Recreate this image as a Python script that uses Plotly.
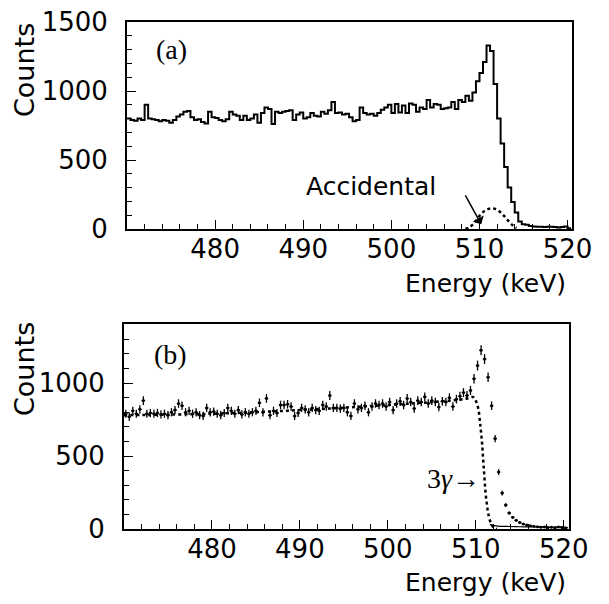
import plotly.graph_objects as go

# ---- data ----
# panel (a): histogram, 0.4 keV bins starting at 470.0 keV
bin_lo = 470.0
bin_w = 0.4
counts_a = [
    800, 790, 785, 800, 790, 900, 800, 795, 790, 780,
    790, 785, 770, 790, 815, 830, 850, 855, 810, 790,
    795, 775, 765, 850, 810, 805, 790, 780, 795, 850,
    830, 820, 790, 820, 790, 800, 830, 770, 840, 880,
    870, 760, 850, 840, 850, 855, 860, 790, 830, 845,
    800, 810, 840, 820, 815, 850, 835, 860, 920, 840,
    845, 830, 835, 810, 780, 790, 880, 840, 830, 835,
    820, 840, 865, 880, 900, 840, 905, 845, 895, 840,
    910, 900, 850, 880, 870, 935, 880, 905, 900, 870,
    875, 880, 920, 870, 935, 920, 965, 930, 990, 1070,
    1130, 1210, 1330, 1290, 1050, 800, 620, 450, 300, 195,
    120, 55, 35, 30, 22, 18, 17, 16, 15, 17,
    17, 15, 10, 15, 18, 5,
]
acc_e = [508.4, 508.8, 509.2, 509.6, 510.0, 510.4, 510.8, 511.2, 511.5, 511.8,
         512.2, 512.6, 513.0, 513.4, 513.8, 514.2]
acc_c = [0, 10, 30, 60, 95, 122, 140, 149, 150, 145,
         130, 108, 80, 50, 25, 8]

# panel (b): data points with sqrt errors, same binning (centres)
counts_b = [
    790, 770, 810, 790, 820, 880, 790, 795, 790, 795,
    785, 790, 780, 800, 815, 860, 845, 800, 810, 790,
    800, 780, 775, 830, 800, 805, 790, 780, 795, 830,
    810, 790, 815, 785, 800, 790, 800, 810, 865, 800,
    895, 780, 810, 795, 850, 850, 855, 840, 775, 795,
    830, 820, 800, 830, 815, 810, 850, 840, 915, 830,
    830, 825, 830, 800, 775, 860, 820, 830, 845, 800,
    840, 860, 850, 860, 840, 870, 815, 860, 875, 850,
    895, 870, 826, 880, 870, 906, 860, 880, 870, 836,
    875, 870, 900, 840, 890, 910, 935, 915, 950, 1030,
    1120, 1225, 1165, 1040, 845, 620, 390, 246, 164, 110,
    80, 60, 45, 35, 28, 22, 18, 15, 12, 14,
    10, 12, 8, 14, 10, 6,
]
g3_e = [470.0, 480.0, 490.0, 500.0, 505.0, 508.0, 509.0, 509.7, 510.0, 510.3,
        510.5, 510.7, 510.9, 511.2, 511.6, 512.0, 512.4]
g3_c = [780, 790, 815, 850, 870, 885, 895, 904, 880, 820,
        720, 600, 425, 200, 60, 12, 0]
tail_e = [511.6, 512.5, 513.5, 514.5, 515.5, 516.5, 517.5, 518.5, 519.5, 520.5]
tail_c = [30, 20, 18, 16, 15, 14, 16, 12, 14, 10]

x_ticks = [480, 490, 500, 510, 520]
y_ticks = [0, 500, 1000, 1500]

edges_a = [bin_lo + bin_w * i for i in range(len(counts_a) + 1)]
centres_b = [bin_lo + bin_w * (i + 0.5) for i in range(len(counts_b))]

# page body has an 8px margin, so work in page pixels minus that offset
OFF = 8
W, H = 609 - OFF, 604 - OFF
FONT = "DejaVu Sans"


def px(v):
    return (v - OFF) / W


def py(v):
    return 1 - (v - OFF) / H


fig = go.Figure()

# (a) histogram as a step line
fig.add_trace(go.Scatter(
    x=edges_a, y=counts_a + [counts_a[-1]],
    mode="lines", line=dict(color="black", width=2, shape="hv"),
    xaxis="x", yaxis="y"))
fig.add_trace(go.Scatter(
    x=acc_e, y=acc_c, mode="lines",
    line=dict(color="black", width=2.5, dash="dot", shape="spline"),
    xaxis="x", yaxis="y"))

# (b) points with error bars
fig.add_trace(go.Scatter(
    x=g3_e, y=g3_c, mode="lines",
    line=dict(color="black", width=2.5, dash="dot", shape="spline"),
    xaxis="x2", yaxis="y2"))
fig.add_trace(go.Scatter(
    x=tail_e, y=tail_c, mode="lines",
    line=dict(color="black", width=1.2, shape="spline"),
    xaxis="x2", yaxis="y2"))
fig.add_trace(go.Scatter(
    x=centres_b, y=counts_b, mode="markers",
    marker=dict(color="black", size=3),
    error_y=dict(type="sqrt", color="black", thickness=1.3, width=0),
    error_x=dict(type="constant", value=0.2, color="black", thickness=1.3, width=0),
    xaxis="x2", yaxis="y2"))

axis_common = dict(
    showline=True, linecolor="black", linewidth=1.8, mirror=True,
    ticks="inside", tickcolor="black", tickwidth=1.3,
    showgrid=False, zeroline=False, automargin=False,
    ticklabeloverflow="allow",
    tickfont=dict(family=FONT, size=26, color="black"),
)
x_minor = dict(dtick=2, tick0=470, ticks="inside", ticklen=5,
               tickcolor="black", tickwidth=1.2)
y_minor = dict(dtick=100, ticks="inside", ticklen=5,
               tickcolor="black", tickwidth=1.2)

fig.update_layout(
    width=W, height=H,
    margin=dict(l=0, r=0, t=0, b=0),
    paper_bgcolor="white", plot_bgcolor="white",
    showlegend=False,
    xaxis=dict(domain=[px(127), px(572)], range=[470, 520.5], anchor="y",
               tickvals=x_ticks, ticklen=9, ticklabelstandoff=-4,
               minor=x_minor, **axis_common),
    yaxis=dict(domain=[py(229), py(22)], range=[0, 1500], anchor="x",
               tickvals=y_ticks, ticklen=9, ticklabelstandoff=12,
               minor=y_minor, **axis_common),
    xaxis2=dict(domain=[px(124), px(569)], range=[470, 520.6], anchor="y2",
                tickvals=x_ticks, ticklen=9, ticklabelstandoff=-4,
                minor=x_minor, **axis_common),
    yaxis2=dict(domain=[py(529), py(324)], range=[0, 1405], anchor="x2",
                tickvals=y_ticks[:3], ticklen=9, ticklabelstandoff=12,
                minor=y_minor, **axis_common),
)


def txt(x, y, s, size=26, family=FONT, angle=0, xanchor="center"):
    fig.add_annotation(x=px(x), y=py(y), xref="paper", yref="paper",
                       text=s, showarrow=False, textangle=angle,
                       xanchor=xanchor, yanchor="middle",
                       font=dict(family=family, size=size, color="black"))


txt(24, 70, "Counts", size=27, angle=-90)
txt(24, 369, "Counts", size=27, angle=-90)
txt(568, 283, "Energy (keV)", size=25, xanchor="right")
txt(568, 582, "Energy (keV)", size=25, xanchor="right")
txt(171, 50, "(a)", size=28, family="Liberation Serif")
txt(170, 354, "(b)", size=28, family="Liberation Serif")
txt(304, 186, "Accidental", size=25, xanchor="left")
txt(425, 478, "3<i>γ</i>→", size=28, family="Liberation Serif", xanchor="left")

# arrow to the accidental curve
fig.add_annotation(x=510.2, y=35, xref="x", yref="y",
                   ax=508.3, ay=255, axref="x", ayref="y",
                   text="", showarrow=True, arrowhead=1, arrowsize=1.4,
                   arrowwidth=1.5, arrowcolor="black")

fig.write_html("out.html")
